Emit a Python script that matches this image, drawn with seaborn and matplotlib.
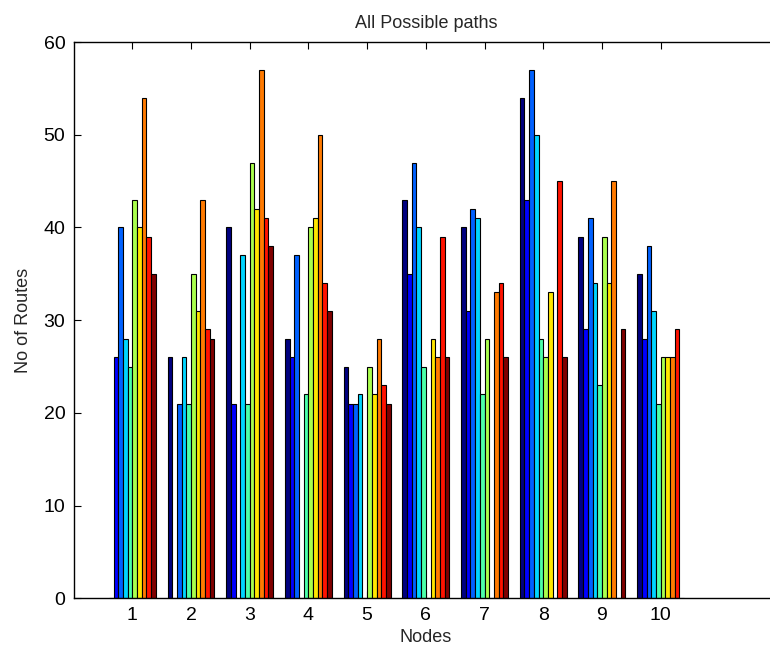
import numpy as np
import pandas as pd
import matplotlib
matplotlib.use("Agg")
import matplotlib.pyplot as plt
import seaborn as sns

nodes = [1, 2, 3, 4, 5, 6, 7, 8, 9, 10]
series_names = ["S1", "S2", "S3", "S4", "S5", "S6", "S7", "S8", "S9", "S10"]
# rows = node groups, columns = series
routes = [
    [0, 26, 40, 28, 25, 43, 40, 54, 39, 35],
    [26, 0, 21, 26, 21, 35, 31, 43, 29, 28],
    [40, 21, 0, 37, 21, 47, 42, 57, 41, 38],
    [28, 26, 37, 0, 22, 40, 41, 50, 34, 31],
    [25, 21, 21, 22, 0, 25, 22, 28, 23, 21],
    [43, 35, 47, 40, 25, 0, 28, 26, 39, 26],
    [40, 31, 42, 41, 22, 28, 0, 33, 34, 26],
    [54, 43, 57, 50, 28, 26, 33, 0, 45, 26],
    [39, 29, 41, 34, 23, 39, 34, 45, 0, 29],
    [35, 28, 38, 31, 21, 26, 26, 26, 29, 0],
]
yticks = [0, 10, 20, 30, 40, 50, 60]

rows = []
for n, vals in zip(nodes, routes):
    for s, v in zip(series_names, vals):
        rows.append({"node": n, "series": s, "routes": v})
df = pd.DataFrame(rows)

sns.set_theme(style="white")
plt.rcParams["font.family"] = ["Liberation Sans", "DejaVu Sans"]

fig = plt.figure(figsize=(7.7, 6.57), dpi=100)
ax = fig.add_axes([0.0956, 0.0893, 0.9148, 0.8467])

palette = [matplotlib.cm.jet(t) for t in np.linspace(0, 1, len(series_names))]
sns.barplot(data=df, x="node", y="routes", hue="series", hue_order=series_names,
            palette=palette, saturation=1, native_scale=True, width=0.8, gap=0,
            dodge=True, edgecolor="black", linewidth=0.8, errorbar=None, ax=ax,
            legend=False)

ax.set_xlim(0, 12)
ax.set_ylim(0, 60)
ax.set_xticks(nodes)
ax.set_xticklabels([str(n) for n in nodes])
ax.set_yticks(yticks)
ax.tick_params(direction="in", length=5, width=0.8, labelsize=14, top=True,
               right=True, bottom=True, left=True, colors="black", pad=6)
for sp in ax.spines.values():
    sp.set_color("black")
    sp.set_linewidth(1.0)

ax.set_xlabel("Nodes", fontsize=13, labelpad=4)
ax.set_ylabel("No of Routes", fontsize=13, labelpad=8)
ax.set_title("All Possible paths", fontsize=13, pad=10)

fig.savefig("out.png", dpi=100)
